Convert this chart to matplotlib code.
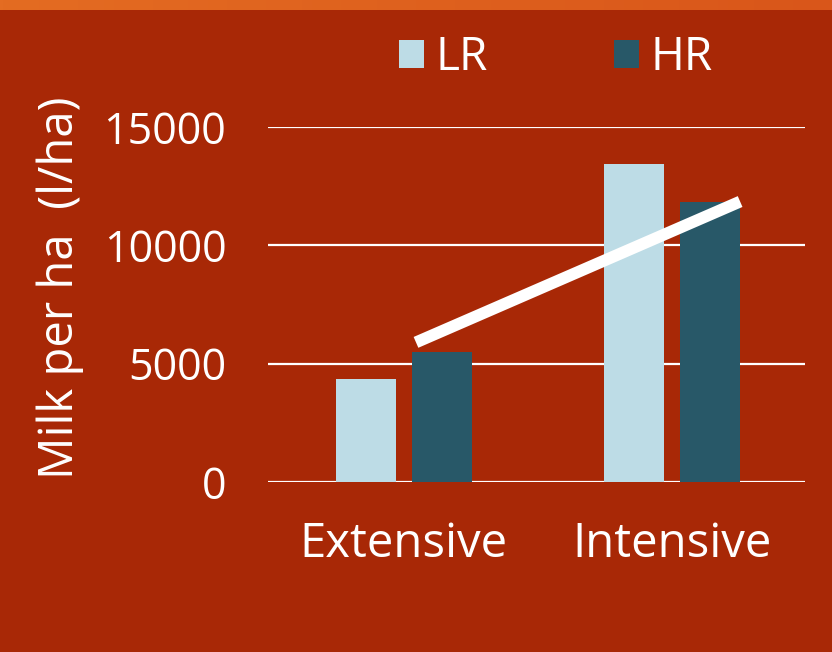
import numpy as np
import matplotlib
matplotlib.use("Agg")
import matplotlib.pyplot as plt

# data
categories = ["Extensive", "Intensive"]
lr_values = [4350, 13450]
hr_values = [5500, 11850]
series_names = ["LR", "HR"]
trend_x = [0.045, 1.254]
trend_y = [5900, 11850]
y_ticks = [0, 5000, 10000, 15000]

bg = "#A82806"
lr_color = "#BDDCE6"
hr_color = "#285868"

plt.rcParams["font.family"] = ["Open Sans", "DejaVu Sans"]

fig = plt.figure(figsize=(8.32, 6.52), dpi=100, facecolor=bg)

# top stripe with a light gradient
sax = fig.add_axes([0, 1 - 10 / 652, 1, 10 / 652])
grad = np.linspace(0, 1, 256).reshape(1, -1)
from matplotlib.colors import LinearSegmentedColormap
cmap = LinearSegmentedColormap.from_list("stripe", ["#E46C22", "#D9561A"])
sax.imshow(grad, aspect="auto", cmap=cmap, extent=[0, 1, 0, 1])
sax.axis("off")

ax = fig.add_axes([268 / 832, 170 / 652, 537 / 832, 355 / 652])
ax.set_facecolor(bg)

x = np.arange(len(categories))
w = 0.224
off = 0.142
b1 = ax.bar(x - off, lr_values, w, color=lr_color, zorder=2, label=series_names[0])
b2 = ax.bar(x + off, hr_values, w, color=hr_color, zorder=2, label=series_names[1])
ax.plot(trend_x, trend_y, color="white", lw=8.5, solid_capstyle="butt", zorder=3)

ax.set_xlim(-0.507, 1.496)
ax.set_ylim(0, 15000)
ax.set_yticks(y_ticks)
ax.set_yticklabels([str(t) for t in y_ticks])
ax.set_xticks(x)
ax.set_xticklabels(categories)
ax.grid(axis="y", color="white", lw=1.6, zorder=1)
ax.tick_params(axis="y", length=0, pad=30, labelsize=31, labelcolor="white")
ax.tick_params(axis="x", length=0, pad=28, labelsize=34, labelcolor="white")
for s in ax.spines.values():
    s.set_visible(False)

fig.text(60 / 832, 1 - 288 / 652, "Milk per ha  (l/ha)", rotation=90, color="white",
         fontsize=34, ha="center", va="center")

fig.legend(handles=[b1, b2], loc="center", bbox_to_anchor=(556 / 832, 1 - 58 / 652),
           ncol=2, frameon=False, fontsize=33, labelcolor="white",
           handlelength=0.55, handleheight=0.55, handletextpad=0.25, columnspacing=2.75)

fig.savefig("out.png", dpi=100, facecolor=bg)
